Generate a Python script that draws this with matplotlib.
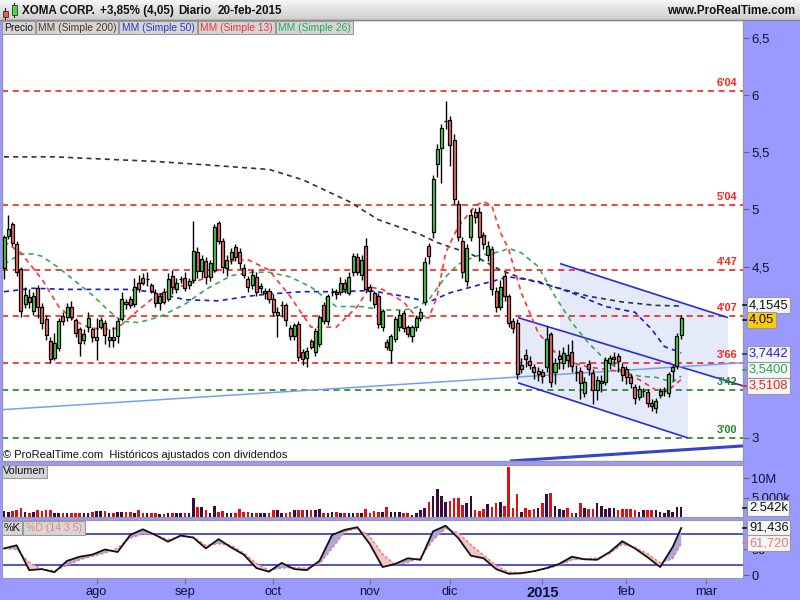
import numpy as np
import matplotlib
matplotlib.use("Agg")
import matplotlib.pyplot as plt
from matplotlib.patches import Rectangle, Polygon
from matplotlib.lines import Line2D
from matplotlib.colors import LinearSegmentedColormap

plt.rcParams['font.family'] = ['Liberation Sans', 'DejaVu Sans']

# ---------------- DATA ----------------
opens = [4.49,4.77,4.87,4.70,4.48,4.17,4.23,4.11,4.31,4.15,4.04,3.85,3.70,3.79,4.07,4.06,4.15,4.03,3.95,3.86,
         3.97,3.95,3.86,3.97,4.01,3.86,3.88,3.89,4.04,4.19,4.22,4.17,4.36,4.40,4.39,4.34,4.27,4.18,4.28,4.22,
         4.42,4.30,4.39,4.40,4.34,4.38,4.63,4.46,4.55,4.41,4.47,4.88,4.72,4.49,4.57,4.67,4.63,4.49,4.39,4.34,
         4.41,4.31,4.27,4.29,4.22,4.08,4.16,4.16,3.96,3.89,4.00,3.75,3.70,3.85,3.75,3.82,4.16,4.02,4.28,4.28,
         4.28,4.36,4.27,4.45,4.58,4.43,4.68,4.32,4.27,4.24,3.97,3.84,3.77,3.87,3.97,4.09,3.97,3.89,3.97,4.05,
         4.19,4.68,4.80,5.40,5.54,5.77,5.78,5.61,5.05,4.72,4.37,4.76,4.98,4.98,4.78,4.60,4.65,4.29,4.15,4.42,
         4.24,4.02,4.01,3.60,3.73,3.67,3.62,3.56,3.58,3.62,3.91,3.58,3.69,3.66,3.73,3.75,3.58,3.59,3.39,3.65,
         3.57,3.42,3.48,3.49,3.66,3.69,3.72,3.62,3.60,3.53,3.45,3.36,3.41,3.40,3.31,3.26,3.38,3.41,3.39,3.59,
         3.63,3.90]
highs = [4.78,4.95,4.89,4.72,4.50,4.32,4.30,4.28,4.34,4.18,4.08,3.88,3.92,4.05,4.10,4.18,4.20,4.05,3.97,3.95,
         4.10,3.97,4.05,4.06,4.03,3.95,3.97,4.05,4.28,4.22,4.24,4.40,4.43,4.44,4.45,4.36,4.30,4.27,4.31,4.44,
         4.47,4.40,4.42,4.45,4.40,4.90,4.67,4.60,4.58,4.56,4.87,4.90,4.75,4.60,4.66,4.70,4.66,4.52,4.42,4.47,
         4.45,4.36,4.31,4.31,4.26,4.15,4.20,4.18,3.99,4.01,4.02,3.78,3.80,3.87,3.96,4.08,4.19,4.26,4.31,4.30,
         4.41,4.39,4.45,4.62,4.62,4.60,4.75,4.35,4.29,4.27,4.13,3.87,3.91,4.07,4.12,4.12,3.99,3.99,4.08,4.14,
         4.58,4.71,5.30,5.57,5.75,5.95,5.82,5.66,5.08,4.76,4.70,5.00,5.01,5.02,4.80,4.72,4.68,4.32,4.38,4.45,
         4.26,4.05,4.04,3.70,3.78,3.72,3.65,3.62,3.60,3.98,3.93,3.70,3.77,3.80,3.82,3.86,3.64,3.62,3.53,3.68,
         3.60,3.54,3.55,3.71,3.73,3.75,3.74,3.66,3.63,3.56,3.47,3.46,3.44,3.43,3.34,3.35,3.44,3.45,3.58,3.65,
         3.92,4.08]
lows = [4.39,4.74,4.68,4.42,4.06,4.14,4.14,4.08,4.05,3.95,3.86,3.66,3.68,3.76,3.99,4.02,4.03,3.88,3.72,3.82,
        3.93,3.84,3.68,3.95,3.82,3.80,3.80,3.83,4.02,4.13,4.14,4.15,4.28,4.34,4.33,4.27,4.15,4.12,4.17,4.20,
        4.26,4.27,4.36,4.29,4.30,4.36,4.40,4.40,4.35,4.37,4.45,4.70,4.44,4.42,4.52,4.55,4.48,4.40,4.28,4.30,
        4.24,4.27,4.22,4.18,4.07,3.88,4.06,3.98,3.86,3.86,3.67,3.64,3.62,3.78,3.72,3.80,4.00,3.99,4.24,4.22,
        4.25,4.27,4.25,4.42,4.43,4.38,4.28,4.20,4.14,3.96,3.94,3.77,3.66,3.84,3.94,3.93,3.88,3.84,3.94,4.02,
        4.16,4.52,4.75,5.28,5.23,5.70,5.38,5.05,4.72,4.40,4.33,4.72,4.88,4.55,4.65,4.55,4.25,4.10,4.12,4.20,
        3.97,3.92,3.52,3.57,3.62,3.60,3.52,3.50,3.48,3.58,3.45,3.47,3.60,3.60,3.62,3.58,3.50,3.34,3.36,3.55,
        3.30,3.33,3.40,3.46,3.60,3.64,3.58,3.50,3.47,3.44,3.30,3.33,3.36,3.27,3.24,3.22,3.35,3.37,3.36,3.50,
        3.60,3.87]
closes = [4.76,4.83,4.71,4.45,4.11,4.25,4.19,4.24,4.15,4.01,3.90,3.69,3.83,4.02,4.02,4.15,4.06,3.92,3.83,3.91,
          4.05,3.88,3.88,4.03,3.90,3.88,3.86,4.02,4.22,4.17,4.16,4.32,4.30,4.36,4.39,4.29,4.18,4.24,4.19,4.39,
          4.32,4.36,4.39,4.31,4.37,4.64,4.46,4.57,4.41,4.53,4.85,4.72,4.50,4.56,4.63,4.58,4.53,4.43,4.32,4.43,
          4.28,4.33,4.29,4.22,4.10,4.10,4.16,4.03,3.89,3.99,3.71,3.69,3.76,3.80,3.94,4.06,4.02,4.24,4.28,4.26,
          4.36,4.30,4.41,4.59,4.45,4.56,4.30,4.29,4.17,4.00,4.11,3.80,3.89,4.04,4.08,3.96,3.91,3.97,4.05,4.10,
          4.54,4.59,5.27,5.53,5.71,5.77,5.56,5.09,4.76,4.45,4.66,4.95,4.93,4.76,4.70,4.68,4.30,4.15,4.32,4.24,
          4.01,3.96,3.56,3.64,3.69,3.64,3.58,3.59,3.54,3.87,3.49,3.66,3.72,3.74,3.68,3.63,3.58,3.48,3.49,3.60,
          3.42,3.51,3.50,3.68,3.70,3.71,3.67,3.55,3.53,3.48,3.35,3.43,3.41,3.31,3.28,3.32,3.41,3.41,3.56,3.62,
          3.89,4.05]
volumes_m = [1.5,1.3,1.5,1.6,2.3,1.3,1.05,1.3,1.6,1.5,1.75,1.75,1.05,1.05,1.05,1.05,1.05,1.05,1.05,1.05,
             1.05,1.3,1.5,1.5,1.5,1.05,1.05,1.3,1.3,1.3,1.3,1.05,1.75,1.05,1.05,1.05,1.05,0.7,0.7,1.05,
             0.88,0.88,0.88,0.88,1.05,4.8,2.45,2.45,1.75,0.88,2.8,1.3,1.5,1.05,1.05,1.05,1.9,1.3,1.3,0.88,
             1.05,0.88,0.88,1.05,1.75,1.75,1.05,1.05,1.3,1.75,1.75,1.6,1.6,1.6,1.75,2.0,1.05,1.05,1.3,1.3,
             1.05,1.05,1.05,0.88,1.05,1.05,1.9,1.05,1.5,1.3,1.3,2.5,1.3,1.3,1.3,0.88,1.05,0.45,0.88,1.75,
             2.2,3.7,5.3,7.3,5.3,3.9,4.2,4.8,4.8,3.1,3.5,5.4,1.75,1.5,1.9,3.3,2.6,3.5,3.7,2.8,
             13.1,2.2,6.0,1.3,2.2,1.75,1.9,2.2,3.5,6.0,6.3,2.8,1.9,1.75,2.2,1.05,1.05,3.5,2.2,2.0,
             1.9,3.5,2.8,1.9,2.2,2.2,1.75,1.9,1.9,1.9,1.75,1.3,1.75,1.6,1.6,1.6,1.3,0.88,1.75,1.3,
             2.6,2.6]

ma200_idx = [0,12,24,36,48,63,71,82,89,99,103,111,118,123,131,139,147,155,161]
ma200_val = [5.46,5.46,5.44,5.42,5.39,5.35,5.26,5.07,4.91,4.78,4.71,4.61,4.47,4.40,4.32,4.24,4.19,4.16,4.1545]
ma50_idx = [0,7,15,29,35,43,51,58,63,71,79,87,95,101,106,111,118,120,127,135,143,150,154,157,160,161]
ma50_val = [4.28,4.31,4.30,4.30,4.28,4.21,4.20,4.24,4.26,4.28,4.28,4.29,4.24,4.19,4.27,4.32,4.39,4.41,4.37,4.27,
            4.15,4.10,3.95,3.80,3.76,3.7442]
ma13_idx = [0,4,9,13,17,20,23,27,32,36,43,48,54,58,63,68,73,79,84,87,90,95,98,101,103,105,108,112,114,116,118,
            120,123,127,131,135,139,143,147,151,155,158,161]
ma13_val = [4.72,4.62,4.39,4.15,4.02,3.97,3.95,3.96,4.12,4.24,4.34,4.40,4.55,4.56,4.47,4.24,3.97,3.97,4.15,4.32,
            4.30,4.19,4.06,4.05,4.24,4.62,4.85,5.03,5.07,5.03,4.80,4.65,4.27,3.92,3.75,3.66,3.62,3.60,3.58,3.51,
            3.42,3.42,3.5108]
ma26_idx = [0,4,7,9,13,17,21,25,28,32,37,43,48,54,59,63,68,73,79,85,90,95,98,101,105,108,112,118,120,123,127,
            131,135,139,143,147,151,155,159,161]
ma26_val = [4.52,4.61,4.61,4.59,4.49,4.37,4.25,4.11,4.02,4.01,4.06,4.17,4.30,4.42,4.45,4.45,4.41,4.32,4.15,4.15,
            4.12,4.12,4.14,4.21,4.41,4.52,4.59,4.63,4.66,4.62,4.50,4.24,4.01,3.83,3.68,3.58,3.54,3.53,3.49,3.54]

stoch_idx = list(range(0, 160, 3)) + [161]
stoch_k = [52,58,10,12,6,28,36,40,50,45,78,89,78,65,77,73,52,70,54,40,14,7,24,12,10,28,78,88,93,60,16,22,33,30,
           85,96,72,38,33,12,3,4,8,14,22,36,31,30,45,66,52,35,16,55,91.436]
stoch_d = [52,50,25,12,9,19,30,37,43,53,72,80,78,69,75,74,58,61,58,43,23,10,14,15,14,22,52,84,91,75,41,21,25,34,
           68,91,82,59,39,19,6,5,8,13,19,30,32,33,42,60,54,42,24,32,61.72]

level_vals = [6.04, 5.04, 4.47, 4.07, 3.66, 3.42, 3.00]
level_labels = ["6'04", "5'04", "4'47", "4'07", "3'66", "3'42", "3'00"]
level_colors = ['#ee1111', '#ee1111', '#ee1111', '#ee1111', '#ee1111', '#117711', '#117711']
level_text_colors = ['#ff2020', '#ff2020', '#ff2020', '#ff2020', '#ff2020', '#228822', '#228822']

month_idx = [22, 43, 64, 87, 106, 128, 148, 167]
month_labels = ['ago', 'sep', 'oct', 'nov', 'dic', '2015', 'feb', 'mar']

price_ticks = [3, 4.5, 5, 5.5, 6, 6.5]
price_tick_labels = ['3', '4,5', '5', '5,5', '6', '6,5']

# trend channel anchor points (index, price)
chan_mid = [(122.2, 4.053), (175.7, 3.456)]
chan_low = [(122.2, 3.482), (162.6, 3.000)]
chan_up = [(132.2, 4.526), (172.1, 4.053)]
long_line = [(-0.95, 3.246), (175.7, 3.658)]
bottom_line = [(120.3, 2.798), (175.7, 2.930)]

# ---------------- LAYOUT ----------------
W, H = 800, 600
fig = plt.figure(figsize=(8, 6), dpi=100, facecolor='#9999ff')

def rect(x0, y0, x1, y1):
    return [x0 / W, 1 - y1 / H, (x1 - x0) / W, (y1 - y0) / H]

def fx(x):
    return x / W

def fy(y):
    return 1 - y / H

def ftext(x, y, s, **kw):
    kw.setdefault('va', 'center')
    return fig.text(fx(x), fy(y), s, **kw)

def fbox(x0, y0, x1, y1, fc, ec='#999999', lw=0.8, z=5):
    fig.add_artist(Rectangle((fx(x0), fy(y1)), fx(x1 - x0), (y1 - y0) / H, transform=fig.transFigure,
                             facecolor=fc, edgecolor=ec, lw=lw, zorder=z))

def fline(x0, y0, x1, y1, **kw):
    fig.add_artist(Line2D([fx(x0), fx(x1)], [fy(y0), fy(y1)], transform=fig.transFigure, **kw))

XL = (-0.48, 175.7)
n = len(closes)
idx = np.arange(n)

# title bar
axt = fig.add_axes(rect(0, 0, 800, 20))
grad = np.linspace(0, 1, 50).reshape(-1, 1)
cm = LinearSegmentedColormap.from_list('g', ['#f6f6f6', '#cdcdcd'])
axt.imshow(grad, aspect='auto', cmap=cm, extent=(0, 1, 0, 1), origin='upper')
axt.set_axis_off()
fline(0, 19.5, 800, 19.5, color='#8a8a8a', lw=1)
# icon
fline(5, 8, 5, 19, color='#222222', lw=0.8)
fbox(3, 11, 7.5, 17, '#ee5555', ec='#333333', lw=0.6, z=6)
fline(14, 3, 14, 17, color='#222222', lw=0.8)
fbox(12, 5, 16.5, 15, '#44dd44', ec='#333333', lw=0.6, z=6)
for xx, s in [(22, 'XOMA CORP.'), (100, '+3,85% (4,05)'), (178, 'Diario'), (218, '20-feb-2015')]:
    ftext(xx, 11, s, fontsize=8.4, fontweight='bold', color='#111111')
ftext(795, 11, 'www.ProRealTime.com', fontsize=8.4, fontweight='bold', color='#111111', ha='right')

# ---------------- MAIN PRICE PANEL ----------------
ax = fig.add_axes(rect(2, 20, 743, 461))
ax.set_facecolor('white')
ax.set_xlim(*XL)
ax.set_ylim(2.798, 6.658)
for s in ax.spines.values():
    s.set_color('#999999')
    s.set_linewidth(1)
ax.set_xticks([])
ax.yaxis.tick_right()
ax.set_yticks(price_ticks)
ax.set_yticklabels(price_tick_labels)
ax.tick_params(axis='y', length=4, color='#666666', labelsize=9.5, labelcolor='#111133', pad=2)

# channel shading
mid_slope = (chan_mid[1][1] - chan_mid[0][1]) / (chan_mid[1][0] - chan_mid[0][0])
def mid_at(i):
    return chan_mid[0][1] + (i - chan_mid[0][0]) * mid_slope
poly_low = [chan_mid[0], (chan_low[1][0], mid_at(chan_low[1][0])), chan_low[1], chan_low[0]]
poly_up = [chan_up[0], chan_up[1], (chan_up[1][0], mid_at(chan_up[1][0])), (chan_up[0][0], mid_at(chan_up[0][0]))]
ax.add_patch(Polygon(poly_low, closed=True, facecolor='#e4eafa', edgecolor='none', zorder=0.5))
ax.add_patch(Polygon(poly_up, closed=True, facecolor='#e4eafa', edgecolor='none', zorder=0.5))

# level lines
for v, lab, c, tc in zip(level_vals, level_labels, level_colors, level_text_colors):
    ax.axhline(v, color=c, lw=1.1, ls=(0, (4, 3)), zorder=1)
    ax.text(174.4, v + 0.025, lab, color=tc, fontsize=7.8, fontweight='bold', ha='right', va='bottom', zorder=6)

# trend lines
for (a, b), c, lw in [((chan_mid[0], chan_mid[1]), '#2a2ae0', 1.2),
                      ((chan_low[0], chan_low[1]), '#2a2ae0', 1.2),
                      ((chan_up[0], chan_up[1]), '#2a2ae0', 1.2),
                      ((long_line[0], long_line[1]), '#77a0f0', 1.1),
                      ((bottom_line[0], bottom_line[1]), '#3344cc', 2.2)]:
    ax.plot([a[0], b[0]], [a[1], b[1]], color=c, lw=lw, zorder=2, solid_capstyle='butt')

# moving averages
ax.plot(ma200_idx, ma200_val, color='#333333', lw=1.2, ls=(0, (3, 2.5)), zorder=2.5)
ax.plot(ma50_idx, ma50_val, color='#1a1acc', lw=1.2, ls=(0, (3, 2.5)), zorder=2.5)
ax.plot(ma26_idx, ma26_val, color='#33aa55', lw=1.2, ls=(0, (3, 2.5)), zorder=2.5)
ax.plot(ma13_idx, ma13_val, color='#ff3333', lw=1.2, ls=(0, (3, 2.5)), zorder=2.5)

# candles
o = np.array(opens); c_ = np.array(closes); h = np.array(highs); l = np.array(lows)
up = c_ >= o
ax.vlines(idx, l, h, color='black', lw=1.0, zorder=3)
body_col = np.where(up, '#44d844', '#ee6b6b')
ax.bar(idx, np.abs(c_ - o), bottom=np.minimum(o, c_), width=0.72, color=body_col,
       edgecolor='black', linewidth=0.9, zorder=4)

# legend boxes
boxes = [(2, 35, 'Precio', '#111111'), (36, 118, 'MM (Simple 200)', '#4a3a22'),
         (119, 197, 'MM (Simple 50)', '#3333cc'), (198, 275, 'MM (Simple 13)', '#ee3333'),
         (276, 353, 'MM (Simple 26)', '#22aa66')]
for x0, x1, s, col in boxes:
    fbox(x0, 21, x1, 34, '#d6d6d6', ec='#9a9a9a')
    ftext((x0 + x1) / 2, 27.8, s, fontsize=7.4, color=col, ha='center', zorder=7)

ftext(3, 455, '\u00a9 ProRealTime.com  Hist\u00f3ricos ajustados con dividendos', fontsize=8.0, color='#111111')

# price value boxes
def vbox(y, s, tc, fc='#f6f6f6'):
    fline(743, y, 748, y, color=tc, lw=1.2)
    fig.text(fx(749), fy(y), s, fontsize=9.3, color=tc, va='center', ha='left', zorder=8,
             bbox=dict(boxstyle='square,pad=0.12', fc=fc, ec='#999999', lw=0.8))

vbox(305, '4,1545', '#111111')
vbox(320, '4,05', '#111111', fc='#ffcc00')
vbox(354, '3,7442', '#2222cc')
vbox(370, '3,5400', '#22aa55')
vbox(386, '3,5108', '#ee2222')

# ---------------- VOLUME PANEL ----------------
axv = fig.add_axes(rect(2, 465, 743, 517))
axv.set_facecolor('white')
axv.set_xlim(*XL)
axv.set_ylim(-0.13, 13.55)
for s in axv.spines.values():
    s.set_color('#999999')
axv.set_xticks([])
axv.yaxis.tick_right()
axv.set_yticks([5, 10])
axv.set_yticklabels(['5.000k', '10M'])
axv.tick_params(axis='y', length=4, color='#666666', labelsize=9.3, labelcolor='#111133', pad=2)
vol_col = np.where(up, '#3a0a3a', '#dd1111')
axv.bar(idx, volumes_m, width=0.62, color=vol_col, zorder=2)
fbox(2, 465, 47, 478, '#d6d6d6', ec='#9a9a9a')
ftext(24.5, 471.5, 'Volumen', fontsize=7.8, color='#111111', ha='center', zorder=7)
vbox(508, '2.542k', '#111111')

# ---------------- STOCHASTIC PANEL ----------------
axs = fig.add_axes(rect(2, 520, 743, 578))
axs.set_facecolor('white')
axs.set_xlim(*XL)
axs.set_ylim(-5.2, 107)
for s in axs.spines.values():
    s.set_color('#999999')
axs.axhline(80, color='#2222cc', lw=1.1, zorder=1)
axs.axhline(20, color='#2222cc', lw=1.1, zorder=1)
sk = np.array(stoch_k, dtype=float); sd = np.array(stoch_d, dtype=float)
axs.fill_between(stoch_idx, sk, sd, where=sk >= sd, interpolate=True, color='#a8a8dc', lw=0, zorder=1.5)
axs.fill_between(stoch_idx, sk, sd, where=sk < sd, interpolate=True, color='#f5c4c4', lw=0, zorder=1.5)
axs.plot(stoch_idx, sd, color='#ee7777', lw=1.0, ls=(0, (2, 1.5)), zorder=2)
axs.plot(stoch_idx, sk, color='#111111', lw=1.3, zorder=3)
axs.yaxis.tick_right()
axs.set_yticks([0, 50])
axs.set_yticklabels(['0', '50'])
axs.tick_params(axis='y', length=4, color='#666666', labelsize=9.3, labelcolor='#111133', pad=2)
axs.set_xticks(month_idx)
axs.set_xticklabels(month_labels)
axs.tick_params(axis='x', length=4, color='#777777', labelsize=9.3, labelcolor='#111133', pad=1.5, direction='out')
for t in axs.get_xticklabels():
    if t.get_text() == '2015':
        t.set_fontweight('bold')
        t.set_fontsize(10.5)
fbox(2, 521, 22, 535, '#d6d6d6', ec='#9a9a9a')
ftext(12, 528, '%K', fontsize=7.8, color='#111111', ha='center', zorder=7)
fbox(23, 521, 85, 535, '#d6d6d6', ec='#9a9a9a')
ftext(54, 528, '%D (14 3 5)', fontsize=7.6, color='#ee8080', ha='center', zorder=7)
vbox(528, '91,436', '#111111')
vbox(543, '61,720', '#ee7777')

fig.savefig('out.png', dpi=100, facecolor=fig.get_facecolor())
